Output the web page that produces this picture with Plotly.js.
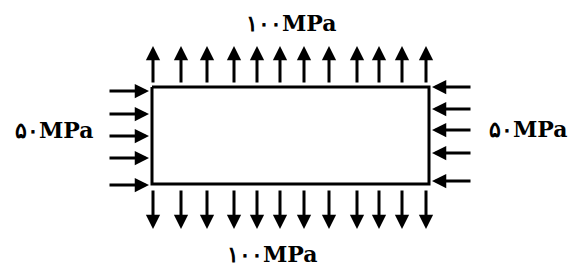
<!DOCTYPE html>
<html>
<head>
<meta charset="utf-8">
<script src="https://cdn.plot.ly/plotly-3.0.1.min.js"></script>
<style>html,body{margin:0;padding:0;background:#fff;}#chart{width:574px;height:266px;}</style>
</head>
<body>
<div id="chart"></div>
<script>
// Plate (rectangle) bounds in diagram units
const plateX = [152, 429];
const plateY = [87, 184];
// Tensile arrows (top and bottom), x positions
const tensileArrowX = [153, 181, 207, 234, 257, 280, 304, 329, 357, 379, 402, 426];
const topArrowY = [84, 46];      // tail, tip
const bottomArrowY = [189, 229]; // tail, tip
// Compressive arrows (left and right), y positions
const leftArrowY = [91, 114, 136, 158, 185];
const rightArrowY = [87, 109, 130, 153, 181];
const leftArrowX = [108, 149];   // tail, tip
const rightArrowX = [472, 432];  // tail, tip
// Labels
const labelTexts = ['۱۰۰MPa', '۱۰۰MPa', '۵۰MPa', '۵۰MPa'];
const labelX = [291, 272, 54, 528];
const labelY = [23, 254, 130, 129];

const annotations = [];
function arrow(tailX, tailY, tipX, tipY) {
  annotations.push({
    x: tipX, y: tipY, ax: tailX, ay: tailY,
    xref: 'x', yref: 'y', axref: 'x', ayref: 'y',
    text: '', showarrow: true, arrowhead: 2, arrowsize: 0.95,
    arrowwidth: 3, arrowcolor: '#000', standoff: 0, startstandoff: 0
  });
}
tensileArrowX.forEach(x => {
  arrow(x, topArrowY[0], x, topArrowY[1]);
  arrow(x, bottomArrowY[0], x, bottomArrowY[1]);
});
leftArrowY.forEach(y => arrow(leftArrowX[0], y, leftArrowX[1], y));
rightArrowY.forEach(y => arrow(rightArrowX[0], y, rightArrowX[1], y));
labelTexts.forEach((t, i) => {
  annotations.push({
    x: labelX[i], y: labelY[i], xref: 'x', yref: 'y', text: '<b>' + t + '</b>',
    showarrow: false, xanchor: 'center', yanchor: 'middle',
    font: {family: 'DejaVu Serif', size: 22, color: '#000'}
  });
});

const data = [{
  x: [plateX[0], plateX[1], plateX[1], plateX[0], plateX[0]],
  y: [plateY[0], plateY[0], plateY[1], plateY[1], plateY[0]],
  mode: 'lines', line: {color: '#000', width: 3}, hoverinfo: 'skip', showlegend: false
}];

const layout = {
  width: 574, height: 266,
  margin: {l: 0, r: 0, t: 0, b: 0},
  paper_bgcolor: '#fff', plot_bgcolor: '#fff',
  xaxis: {range: [0, 574], visible: false, fixedrange: true},
  yaxis: {range: [266, 0], visible: false, fixedrange: true},
  annotations: annotations,
  showlegend: false
};
Plotly.newPlot('chart', data, layout, {staticPlot: true, displayModeBar: false});
</script>
</body>
</html>
